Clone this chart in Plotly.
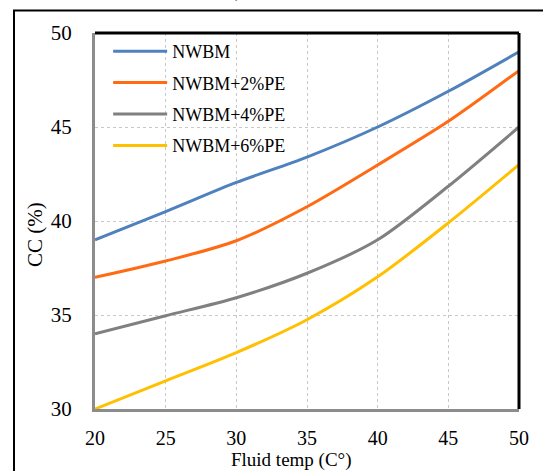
import plotly.graph_objects as go

temps = [20, 25, 30, 35, 40, 45, 50]
series_names = ["NWBM", "NWBM+2%PE", "NWBM+4%PE", "NWBM+6%PE"]
nwbm = [39.0, 40.5, 42.05, 43.4, 45.0, 46.9, 49.0]
pe2 = [37.0, 37.87, 38.95, 40.76, 42.98, 45.3, 48.0]
pe4 = [34.0, 34.96, 35.92, 37.22, 39.0, 41.85, 45.0]
pe6 = [30.0, 31.5, 33.0, 34.75, 37.03, 39.9, 43.0]
colors = ["#4F81BD", "#FF6A13", "#808080", "#FFC000"]
x_ticks = [20, 25, 30, 35, 40, 45, 50]
y_ticks = [30, 35, 40, 45, 50]

FONT = "Liberation Serif, Times New Roman, serif"

fig = go.Figure()
for i, (name, vals) in enumerate(zip(series_names, [nwbm, pe2, pe4, pe6])):
    fig.add_trace(go.Scatter(
        x=temps, y=vals, name=name, mode="lines",
        line=dict(color=colors[i], width=3, shape="spline", smoothing=0.8),
        legendgroup=f"g{i}",
    ))

W, H = 543, 471
L, R, T, B = 95, 24, 33, 62

fig.update_layout(
    width=W, height=H,
    margin=dict(l=L, r=R, t=T, b=B),
    paper_bgcolor="white", plot_bgcolor="white",
    font=dict(family=FONT, size=20, color="black"),
    showlegend=True,
    legend=dict(
        x=0.031, y=1.0, xanchor="left", yanchor="top",
        bgcolor="rgba(0,0,0,0)", borderwidth=0,
        font=dict(family=FONT, size=18, color="black"),
        tracegroupgap=5, itemwidth=54,
    ),
    xaxis=dict(
        range=[20, 50], tickvals=x_ticks, showgrid=True,
        gridcolor="#C8C8C8", griddash="dot", gridwidth=1,
        showline=True, linecolor="#8C8C8C", linewidth=3,
        zeroline=False, ticks="", ticklabelstandoff=9,
        tickfont=dict(family=FONT, size=20),
    ),
    yaxis=dict(
        range=[30, 50], tickvals=y_ticks, showgrid=True,
        gridcolor="#C8C8C8", griddash="dot", gridwidth=1,
        showline=True, linecolor="#8C8C8C", linewidth=3,
        zeroline=False, ticks="", ticklabelstandoff=16,
        tickfont=dict(family=FONT, size=21),
    ),
)

pw = W - L - R
ph = H - T - B
def px(xp):
    return (xp - L) / pw
def py(yp):
    return (H - B - yp) / ph

shapes = [
    dict(type="line", xref="paper", yref="paper", x0=0, x1=1, y0=1, y1=1,
         line=dict(color="black", width=3)),
    dict(type="line", xref="paper", yref="paper", x0=1, x1=1, y0=0, y1=1,
         line=dict(color="black", width=3)),
    dict(type="rect", xref="paper", yref="paper",
         x0=px(14), x1=px(560), y0=py(490), y1=py(10.5),
         line=dict(color="black", width=2), fillcolor="rgba(0,0,0,0)", layer="below"),
]
fig.update_layout(shapes=shapes)

fig.add_annotation(text="Fluid temp (C°)", xref="paper", yref="paper",
                   x=px(291), y=py(460), showarrow=False,
                   font=dict(family=FONT, size=19), xanchor="center", yanchor="middle")
fig.add_annotation(text="CC (%)", xref="paper", yref="paper",
                   x=px(35), y=py(235), showarrow=False, textangle=-90,
                   font=dict(family=FONT, size=21), xanchor="center", yanchor="middle")
fig.add_annotation(text=")", xref="paper", yref="paper",
                   x=px(238), y=py(4), showarrow=False,
                   font=dict(family=FONT, size=18), xanchor="center", yanchor="bottom")

fig.write_html("out.html", config={"displayModeBar": False},
               post_script="document.body.style.margin='0';document.body.style.overflow='hidden';")
